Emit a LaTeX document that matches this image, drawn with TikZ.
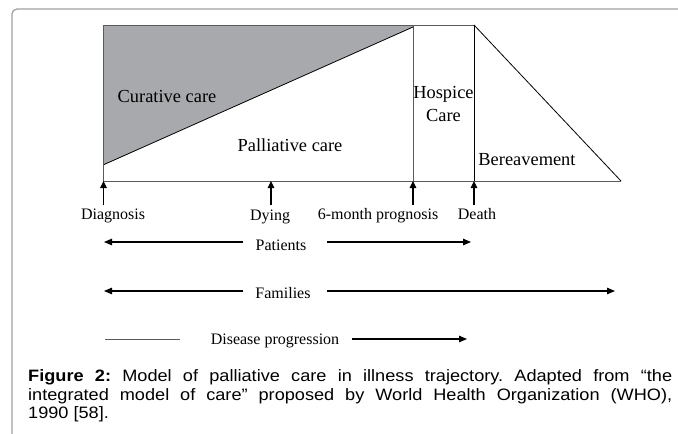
\documentclass[tikz,border=0pt]{standalone}
\usepackage{fontspec}
\setmainfont{Liberation Serif}
\newfontfamily\capfont[FakeStretch=1.1]{Liberation Sans}
\usetikzlibrary{arrows.meta}
\definecolor{framegray}{HTML}{A0A0A0}
\definecolor{boxgray}{HTML}{5A5A5A}
\definecolor{curfill}{HTML}{A7A9AC}
\tikzset{
  boxlabel/.style={inner sep=0pt, font=\fontsize{18.4}{23}\selectfont},
  ticklabel/.style={inner sep=0pt, font=\fontsize{16}{19}\selectfont},
  upar/.style={line width=1.1pt, -{Triangle[length=7pt,width=6.5pt]}},
  rowar/.style={line width=1.1pt, -{Triangle[length=8pt,width=6.5pt]}},
  outline/.style={draw=boxgray, line width=1pt},
}
\begin{document}
\begin{tikzpicture}[x=1pt,y=-1pt]
\useasboundingbox (0,0) rectangle (678,434);
% frame
\draw[framegray, line width=1.2pt, rounded corners=5pt] (12,434) -- (12,9) -- (678,9);
% curative region
\fill[curfill] (103,25) -- (413,25) -- (413,27) -- (103,165) -- cycle;
\draw[black, line width=0.8pt] (103,165) -- (413,27);
% outlines
\draw[outline] (103,25) rectangle (474,181);
\draw[outline] (413,25) -- (413,181);
\draw[black, line width=1pt] (474,25) -- (474,181);
\draw[black, line width=0.8pt] (474,25) -- (621,181);
\draw[outline] (474,181) -- (621,181);
% area labels
\node[boxlabel] (cur) at (167,96) {Curative care};
\node[boxlabel] (pal) at (290,145) {Palliative care};
\node[boxlabel, align=center] (hos) at (443.5,103.5) {Hospice\\Care};
\node[boxlabel] (ber) at (527,160) {Bereavement};
% tick arrows
\coordinate (diaT) at (103.5,181); \coordinate (diaB) at (103.5,205);
\coordinate (dyiT) at (271,181);   \coordinate (dyiB) at (271,205);
\coordinate (sixT) at (413,181);   \coordinate (sixB) at (413,205);
\coordinate (deaT) at (474,181);   \coordinate (deaB) at (474,205);
\draw[upar] (diaB) -- (diaT);
\draw[upar] (dyiB) -- (dyiT);
\draw[upar] (sixB) -- (sixT);
\draw[upar] (deaB) -- (deaT);
\node[ticklabel] (dia) at (113,216) {Diagnosis};
\node[ticklabel] (dyi) at (270,217) {Dying};
\node[ticklabel] (six) at (378,216) {6-month prognosis};
\node[ticklabel] (dea) at (477,214) {Death};
% rows
\node[ticklabel] (pat) at (281,245) {Patients};
\node[ticklabel] (fam) at (283,293) {Families};
\node[ticklabel] (dis) at (275,341) {Disease progression};
\coordinate (patL) at (104,242); \coordinate (patR) at (471,242);
\coordinate (famL) at (104,291); \coordinate (famR) at (615,291);
\coordinate (disL) at (105,339); \coordinate (disM) at (180,339); \coordinate (disR) at (467,339);
\draw[rowar] (pat.west) ++(-12,-3) -- (patL);
\draw[rowar] (pat.east) ++(20,-3) -- (patR);
\draw[rowar] (fam.west) ++(-12,-2) -- (famL);
\draw[rowar] (fam.east) ++(16,-2) -- (famR);
\draw[boxgray, line width=0.9pt] (disL) -- (disM);
\draw[rowar] (dis.east) ++(13,-2) -- (disR);
% caption
\node[anchor=base west, inner sep=0pt, text width=644pt, align=justify, font=\capfont\fontsize{16.5}{18.5}\selectfont] (cap) at (28,381.5)
{\frenchspacing\textbf{Figure 2:} Model of palliative care in illness trajectory. Adapted from “the\linebreak
integrated model of care” proposed by World Health Organization (WHO),\linebreak
1990 [58].};
\end{tikzpicture}
\end{document}
